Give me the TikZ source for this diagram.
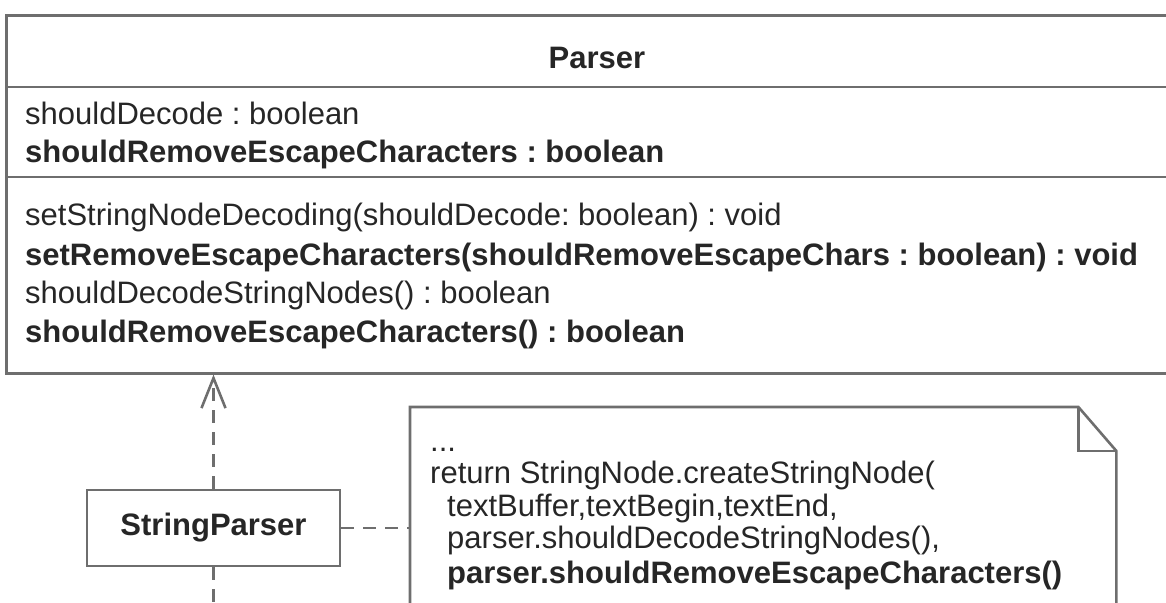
\documentclass[tikz,border=0pt]{standalone}
\usepackage{fontspec}
\setmainfont{Liberation Sans}
\usepackage{tikz,xcolor}
\usetikzlibrary{arrows.meta}
\usetikzlibrary{calc}
\frenchspacing
\definecolor{linegray}{HTML}{6E6E6E}
\definecolor{textgray}{HTML}{262626}
\tikzset{
    umlline/.style={draw=linegray,line width=2.6pt},
    member/.style={anchor=base west,inner sep=0pt,text=textgray,font=\fontsize{31pt}{37pt}\selectfont},
    depline/.style={umlline,dash pattern=on 13pt off 9pt}
}

\begin{document}
\begin{tikzpicture}[x=1pt,y=-1pt]
        \useasboundingbox (0,0) rectangle (1166,602);
        % class Parser
        \node[umlline,anchor=north west,minimum width=1185pt,minimum height=358pt,inner sep=0pt] (parser) at (5,14) {};
        \draw[umlline] (parser.west |- 0,87) -- (parser.east |- 0,87);
        \draw[umlline] (parser.west |- 0,177) -- (parser.east |- 0,177);
        \node[member,anchor=base] (title) at (597,68) {\bfseries Parser};
        \foreach \y/\t [count=\n] in {124/{shouldDecode : boolean},162/{\bfseries shouldRemoveEscapeCharacters : boolean}}{
            \node[member] (attr\n) at (25,\y) {\t};
        }
        \foreach \y/\t [count=\n] in {225/{setStringNodeDecoding(shouldDecode: boolean) : void},
            265/{\bfseries setRemoveEscapeCharacters(shouldRemoveEscapeChars : boolean) : void},
            303/{shouldDecodeStringNodes() : boolean},
            342/{\bfseries shouldRemoveEscapeCharacters() : boolean}}{
            \node[member] (op\n) at (25,\y) {\t};
        }
        % class StringParser
        \node[umlline,member,anchor=center,minimum width=253pt,minimum height=76pt] (sp) at (213.5,528) {\bfseries StringParser};
        \draw[depline,-{Straight Barb[length=30pt,width=24pt]}] (sp.north) -- (sp.north |- parser.south);
        \draw[depline] (sp.south) -- +(0,60);
        % note
        \node[anchor=north west,minimum width=706pt,minimum height=230pt,inner sep=0pt] (note) at (410,407) {};
        \draw[umlline] (note.south west) -- (note.north west) -- ([xshift=-38pt]note.north east)
            -- ([yshift=-44pt]note.north east) -- (note.south east);
        \draw[umlline] ([xshift=-38pt]note.north east) -- ([xshift=-38pt,yshift=-44pt]note.north east) -- ([yshift=-44pt]note.north east);
        \draw[depline] (sp.east) -- (sp.east -| note.west);
        \node[member] (dots) at (430,451) {...};
        \foreach \x/\y/\t [count=\n] in {430/483/{return StringNode.createStringNode(},
            447/516/{textBuffer,textBegin,textEnd,},
            447/548/{parser.shouldDecodeStringNodes(),},
            447/583/{\bfseries parser.shouldRemoveEscapeCharacters()}}{
            \node[member] (code\n) at (\x,\y) {\t};
        }
\end{tikzpicture}
\end{document}
